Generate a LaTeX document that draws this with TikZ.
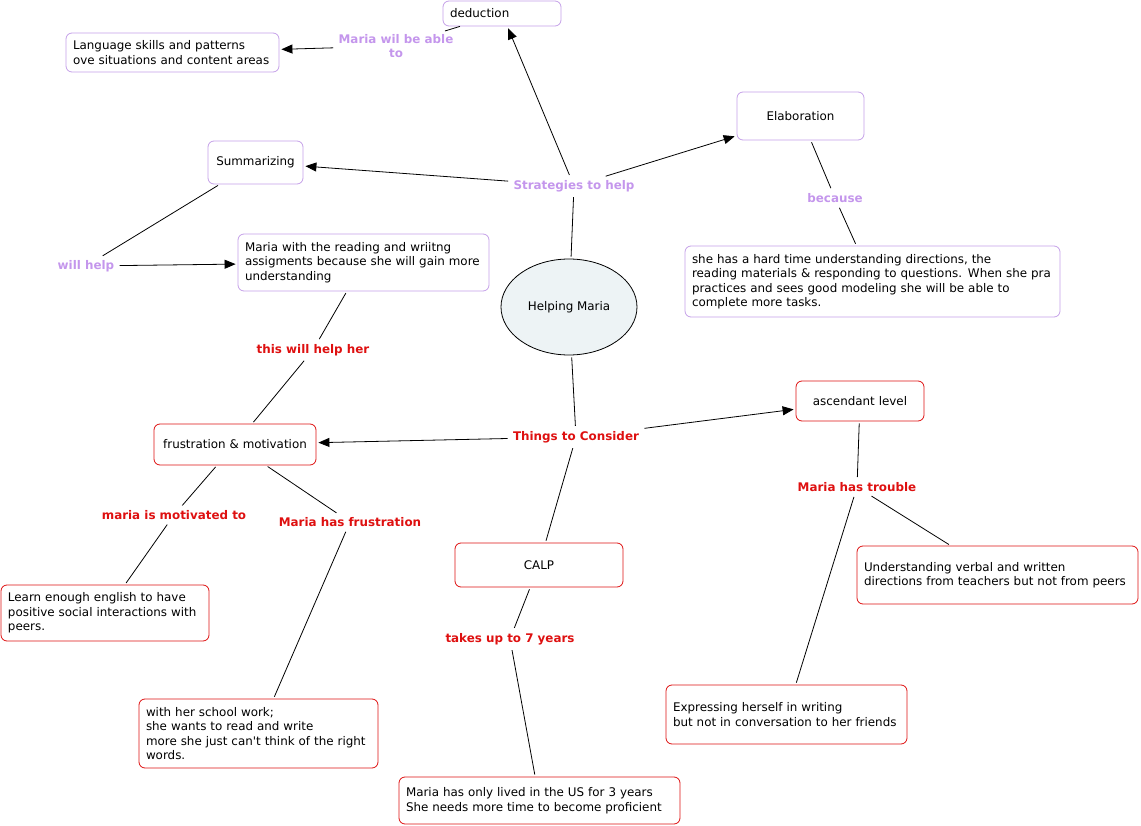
\documentclass[tikz,border=0pt]{standalone}
\usepackage{fontspec}
\setmainfont{DejaVu Sans}
\usetikzlibrary{positioning,arrows.meta,shapes.geometric}
\definecolor{lilac}{RGB}{196,150,236}
\definecolor{lilacline}{RGB}{196,160,232}
\definecolor{cred}{RGB}{222,16,16}
\definecolor{ovalfill}{RGB}{237,243,245}
\begin{document}
\begin{tikzpicture}[x=1pt,y=-1pt,line width=0.8pt,
	every node/.style={font=\fontsize{11.9}{14.5}\selectfont},
	box/.style={draw,rounded corners=6pt,inner xsep=7pt,inner ysep=3pt,align=left},
	pbox/.style={box,draw=lilacline},
	rbox/.style={box,draw=cred},
	plbl/.style={text=lilac,font=\fontsize{11.9}{14}\selectfont\bfseries,align=center,inner sep=3pt},
	rlbl/.style={text=cred,font=\fontsize{11.9}{14}\selectfont\bfseries,align=center,inner sep=3pt},
	link/.style={shorten <=2pt,shorten >=2pt},
	arr/.style={link,-{Triangle[length=11pt,width=9pt]}}]
\useasboundingbox (0,0) rectangle (1141,826);
% centre and strategies
\node[draw,ellipse,fill=ovalfill,minimum width=136pt,minimum height=96pt] (help) at (569,307) {Helping Maria};
\node[plbl] (strat) at (574,186) {Strategies to help};
\node[pbox,text width=104pt,minimum height=25pt] (ded) at (502,13.5) {deduction};
\node[plbl] (able) at (396,46) {Maria wil be able\\to};
\node[pbox,text width=199pt,minimum height=39pt] (lang) at (172.5,52.5) {Language skills and patterns\\ove situations and content areas};
\node[pbox,align=center,text width=81pt,minimum height=43pt] (summ) at (255.5,162.5) {Summarizing};
\node[plbl] (willhelp) at (86,266) {will help};
\node[pbox,text width=237pt,minimum height=57pt] (gain) at (363.5,262.5) {Maria with the reading and wriitng\\assigments because she will gain more\\understanding};
\node[pbox,align=center,text width=113pt,minimum height=48pt] (elab) at (800.5,116) {Elaboration};
\node[plbl] (because) at (835,198) {because};
\node[pbox,text width=361pt,minimum height=71pt] (hard) at (872.5,281.5) {she has a hard time understanding directions, the\\reading materials \& responding to questions. When she pra\\practices and sees good modeling she will be able to\\complete more tasks.};
% things to consider
\node[rlbl] (things) at (576,437) {Things to Consider};
\node[rlbl] (herhelp) at (313,350) {this will help her};
\node[rbox,align=center,text width=148pt,minimum height=41pt] (frus) at (235,444.5) {frustration \& motivation};
\node[rlbl] (motiv) at (174,515) {maria is motivated to};
\node[rlbl] (hasfrus) at (350,522) {Maria has frustration};
\node[rbox,text width=194pt,minimum height=56pt] (learn) at (105,613) {Learn enough english to have\\positive social interactions with\\peers.};
\node[rbox,text width=225pt,minimum height=69pt] (work) at (258.5,733.5) {with her school work;\\she wants to read and write\\more she just can\textquotesingle t think of the right\\words.};
\node[rbox,align=center,text width=154pt,minimum height=44pt] (calp) at (539,565) {CALP};
\node[rlbl] (years) at (510,639) {takes up to 7 years};
\node[rbox,text width=267pt,minimum height=47pt] (lived) at (539.5,800.5) {Maria has only lived in the US for 3 years\\She needs more time to become proficient};
\node[rbox,align=center,text width=114pt,minimum height=40pt] (asc) at (860,401) {ascendant level};
\node[rlbl] (trouble) at (857,487) {Maria has trouble};
\node[rbox,text width=267pt,minimum height=58pt] (verbal) at (997.5,575) {Understanding verbal and written\\directions from teachers but not from peers};
\node[rbox,text width=227pt,minimum height=59pt] (writing) at (786.5,714.5) {Expressing herself in writing\\but not in conversation to her friends};
% connectors
\draw (able)--(ded);
\foreach \a/\b in {strat/help,summ/willhelp,gain/herhelp,herhelp/frus,elab/because,because/hard,help/things,things/calp,frus/motiv,motiv/learn,frus/hasfrus,hasfrus/work,calp/years,years/lived,asc/trouble,trouble/writing,trouble/verbal}
	\draw[link] (\a)--(\b);
\foreach \a/\b in {able/lang,strat/ded,strat/summ,strat/elab,willhelp/gain,things/frus,things/asc}
	\draw[arr] (\a)--(\b);
\end{tikzpicture}
\end{document}
